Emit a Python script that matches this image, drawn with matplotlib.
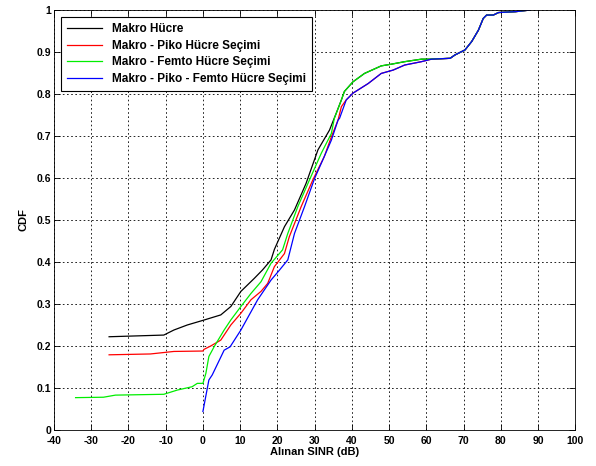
import matplotlib
matplotlib.use('Agg')
import matplotlib.pyplot as plt
import matplotlib.ticker as tckr

plt.rcParams['font.family'] = ['Liberation Sans', 'DejaVu Sans']
plt.rcParams['axes.unicode_minus'] = False

# CDF curves: (SINR dB, CDF)
makro_x = [-25.2, -10.5, -7.8, -4.2, 0.0, 4.8, 7.5, 10.2, 13.8, 16.0, 18.3, 19.2,
           21.9, 24.6, 27.7, 30.9, 34.0, 35.8, 37.2, 38.0, 40.3, 43.4, 47.9, 50.6,
           54.2, 58.7, 61.4, 66.4, 67.7, 70.4, 72.2, 74.0, 75.3, 76.2, 78.0, 79.4,
           83.9, 87.9]
makro_y = [0.222, 0.226, 0.238, 0.250, 0.261, 0.274, 0.294, 0.330, 0.361, 0.381, 0.405, 0.430,
           0.484, 0.524, 0.587, 0.667, 0.714, 0.754, 0.786, 0.806, 0.829, 0.849, 0.867, 0.871,
           0.877, 0.883, 0.883, 0.885, 0.893, 0.905, 0.925, 0.952, 0.980, 0.988, 0.988, 0.994,
           0.996, 1.0]

piko_x = [-25.2, -14.1, -7.8, 0.0, 0.3, 2.1, 4.8, 7.5, 10.2, 12.9, 15.6, 17.4,
          19.2, 21.9, 23.2, 26.4, 29.5, 32.6, 34.5, 36.3, 37.2, 38.5, 40.3, 44.4,
          47.9, 51.1, 54.2, 58.7, 61.4, 66.4, 67.7, 70.4, 72.2, 74.0, 75.3, 76.2,
          78.0, 79.4, 83.9, 87.9]
piko_y = [0.179, 0.181, 0.187, 0.188, 0.192, 0.200, 0.214, 0.250, 0.278, 0.310, 0.330, 0.349,
          0.389, 0.420, 0.460, 0.532, 0.595, 0.651, 0.698, 0.738, 0.770, 0.786, 0.802, 0.825,
          0.849, 0.857, 0.869, 0.877, 0.883, 0.885, 0.893, 0.905, 0.925, 0.952, 0.980, 0.988,
          0.988, 0.994, 0.996, 1.0]

femto_x = [-34.2, -26.7, -23.5, -10.5, -6.9, -2.9, -1.5, 0.0, 0.8, 1.6, 3.0, 5.7,
           7.5, 10.2, 12.9, 15.6, 18.3, 21.4, 22.8, 25.5, 28.6, 31.8, 34.5, 35.3,
           37.2, 38.0, 40.3, 43.4, 47.9, 50.6, 54.2, 58.7, 60.5, 66.4, 67.7, 70.4,
           72.2, 74.0, 75.3, 76.2, 78.0, 79.4, 83.9, 87.9]
femto_y = [0.077, 0.078, 0.083, 0.085, 0.095, 0.103, 0.111, 0.111, 0.135, 0.175, 0.198, 0.238,
           0.262, 0.294, 0.325, 0.353, 0.397, 0.429, 0.468, 0.532, 0.595, 0.659, 0.706, 0.742,
           0.786, 0.806, 0.829, 0.849, 0.867, 0.871, 0.877, 0.883, 0.883, 0.885, 0.893, 0.905,
           0.925, 0.952, 0.980, 0.988, 0.988, 0.994, 0.996, 1.0]

pikofemto_x = [0.0, 1.6, 2.5, 5.7, 7.3, 10.2, 14.7, 18.3, 20.5, 22.8, 24.6, 27.3,
               30.0, 32.2, 34.5, 36.3, 36.7, 38.5, 40.3, 44.4, 47.9, 51.1, 54.2, 58.7,
               61.4, 66.4, 67.7, 70.4, 72.2, 74.0, 75.3, 76.2, 78.0, 79.4, 83.9, 87.9]
pikofemto_y = [0.044, 0.119, 0.131, 0.190, 0.198, 0.238, 0.310, 0.357, 0.380, 0.405, 0.468, 0.532,
               0.599, 0.643, 0.690, 0.738, 0.742, 0.786, 0.802, 0.825, 0.849, 0.857, 0.869, 0.877,
               0.883, 0.885, 0.893, 0.905, 0.925, 0.952, 0.980, 0.988, 0.988, 0.994, 0.996, 1.0]

labels = ['Makro Hücre', 'Makro - Piko Hücre Seçimi',
          'Makro - Femto Hücre Seçimi', 'Makro - Piko - Femto Hücre Seçimi']
colors = ['black', 'red', '#00ee00', 'blue']

fig = plt.figure(figsize=(5.96, 4.66), dpi=100)
ax = fig.add_axes([0.0906, 0.0773, 0.8745, 0.9012])

series = [(makro_x, makro_y), (piko_x, piko_y), (femto_x, femto_y), (pikofemto_x, pikofemto_y)]
for (xs, ys), lab, col in zip(series, labels, colors):
    ax.plot(xs, ys, color=col, linewidth=0.9, label=lab)

ax.set_xlim(-40, 100)
ax.set_ylim(0, 1)
ax.xaxis.set_major_locator(tckr.MultipleLocator(10))
ax.yaxis.set_major_locator(tckr.MultipleLocator(0.1))
ax.yaxis.set_major_formatter(tckr.FuncFormatter(lambda v, p: '%g' % round(v, 1)))
ax.grid(True, color='black', linestyle=(0, (2, 3)), linewidth=0.6)
ax.tick_params(direction='in', top=True, right=True, length=4, width=0.6,
               labelsize=7.5, pad=2)
ax.tick_params(axis='x', pad=4)
for t in ax.get_xticklabels() + ax.get_yticklabels():
    t.set_fontweight('bold')
for s in ax.spines.values():
    s.set_linewidth(0.6)

ax.set_xlabel('Alınan SINR (dB)', fontsize=8, fontweight='bold', labelpad=1)
ax.set_ylabel('CDF', fontsize=8, fontweight='bold', labelpad=6)

leg = ax.legend(loc='upper left', prop={'size': 8.5, 'weight': 'bold'},
                fancybox=False, framealpha=1, edgecolor='black',
                handlelength=3.0, borderaxespad=0.6, labelspacing=0.4,
                borderpad=0.5)
leg.get_frame().set_linewidth(0.8)

fig.savefig('out.png', dpi=100)
plt.close(fig)
